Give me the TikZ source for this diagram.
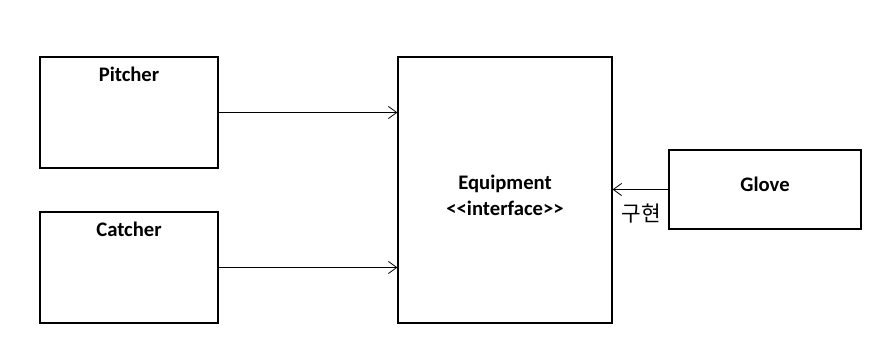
\documentclass[tikz,border=0pt]{standalone}
\usepackage{fontspec}
\setmainfont{Carlito}
\newfontfamily\krfont{Noto Sans CJK KR}
\usetikzlibrary{arrows.meta,positioning}
\tikzset{
  cls/.style   ={draw, line width=0.9pt, inner sep=0pt},
  ttl/.style   ={font=\fontsize{15.5}{19.5}\selectfont\bfseries},
  dep/.style   ={-{Straight Barb[length=2.2mm,width=3.2mm]}, line width=0.6pt},
  rel/.style   ={font=\krfont\fontsize{16}{18}\selectfont},
}
\newcommand{\lt}{\textless\kern0pt}
\newcommand{\gt}{\textgreater\kern0pt}
\begin{document}
\begin{tikzpicture}[x=0.75pt, y=-0.75pt]
  \useasboundingbox (0,0) rectangle (883,348);
  % ---- clients on the left
  \node[cls, minimum width=133.5pt, minimum height=83.25pt] (pbox) at (129,112.5) {};
  \node[ttl] (ptxt) at (129,74) {Pitcher};
  \node[cls, minimum width=133.5pt, minimum height=83.25pt] (cbox) at (129,267.5) {};
  \node[ttl] (ctxt) at (129,229) {Catcher};
  % ---- the interface
  \node[cls, minimum width=160.5pt, minimum height=199.5pt] (ebox) at (505,190) {};
  \node[ttl, align=center] (etxt) at (505,195)
    {Equipment\\\lt\lt interface\gt\gt};
  % ---- implementing class
  \node[cls, minimum width=144pt, minimum height=59.25pt] (gbox) at (765,189.5) {};
  \node[ttl] (gtxt) at (765,184) {Glove};
  % ---- connectors
  \draw[dep] (pbox.east) -- (pbox.east -| ebox.west);
  \draw[dep] (cbox.east) -- (cbox.east -| ebox.west);
  \draw[dep] (gbox.west) -- (gbox.west -| ebox.east);
  \node[rel] (impl) at (641,214) {구현};
\end{tikzpicture}
\end{document}
